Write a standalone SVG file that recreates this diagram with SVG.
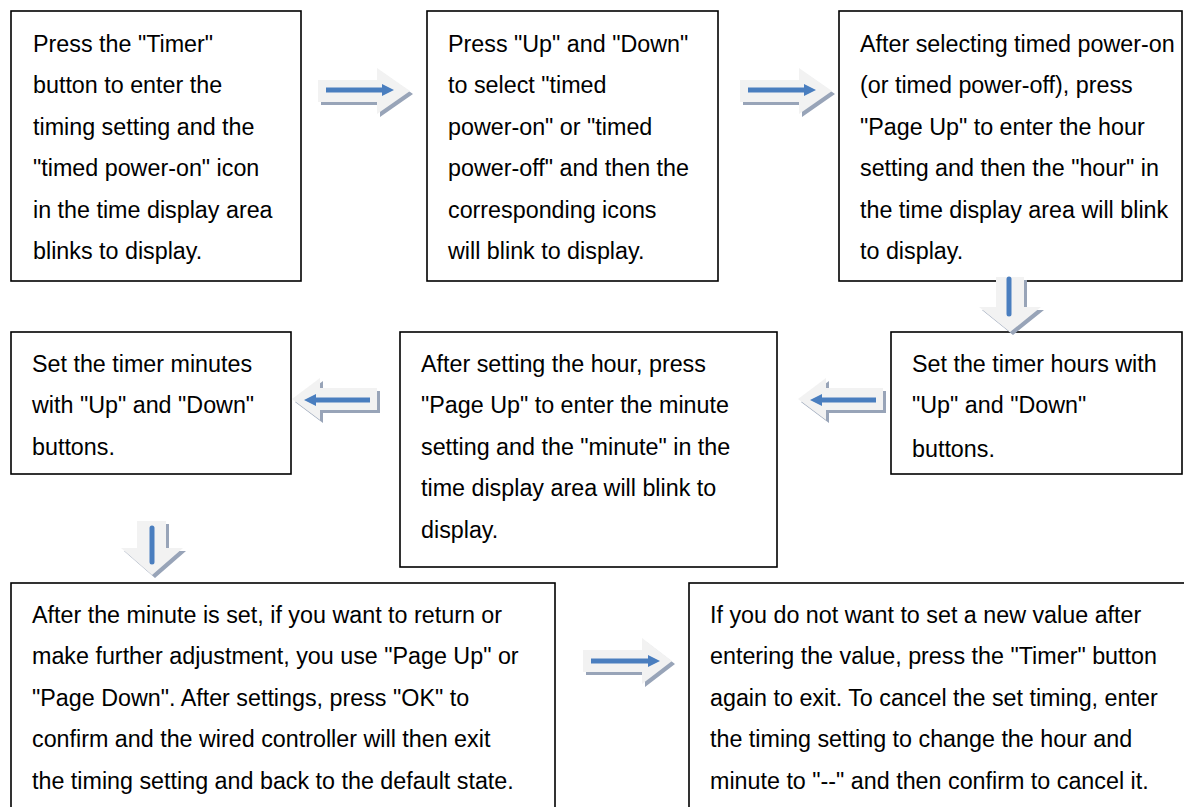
<svg xmlns="http://www.w3.org/2000/svg" width="1184" height="807" viewBox="0 0 1184 807">
<style>
.box{fill:#fff;stroke:#000;stroke-width:1.6}
.t{font-family:"Liberation Sans",Arial,sans-serif;font-size:23.3px;fill:#000}
.body{fill:#f2f2f2}
.shd{fill:#98a4b8}
.bl{stroke:#4a7ebf;stroke-width:5;fill:none}
.bh{fill:#4a7ebf}
</style>
<rect width="1184" height="807" fill="#fff"/>
<g id="n1"><rect class="box" x="11" y="11" width="290" height="270"/>
<text class="t" x="33"><tspan x="33" y="52">Press the "Timer"</tspan><tspan x="33" y="93">button to enter the</tspan><tspan x="33" y="135">timing setting and the</tspan><tspan x="33" y="176">"timed power-on" icon</tspan><tspan x="33" y="218">in the time display area</tspan><tspan x="33" y="259">blinks to display.</tspan></text></g>
<g id="n2"><rect class="box" x="427" y="11" width="291" height="270"/>
<text class="t"><tspan x="448" y="52">Press "Up" and "Down"</tspan><tspan x="448" y="93">to select "timed</tspan><tspan x="448" y="135">power-on" or "timed</tspan><tspan x="448" y="176">power-off" and then the</tspan><tspan x="448" y="218">corresponding icons</tspan><tspan x="448" y="259">will blink to display.</tspan></text></g>
<g id="n3"><rect class="box" x="839" y="11" width="343" height="270"/>
<text class="t"><tspan x="860" y="52">After selecting timed power-on</tspan><tspan x="860" y="93">(or timed power-off), press</tspan><tspan x="860" y="135">"Page Up" to enter the hour</tspan><tspan x="860" y="176">setting and then the "hour" in</tspan><tspan x="860" y="218">the time display area will blink</tspan><tspan x="860" y="259">to display.</tspan></text></g>
<g id="n4"><rect class="box" x="11" y="332" width="280" height="142"/>
<text class="t"><tspan x="32" y="372">Set the timer minutes</tspan><tspan x="32" y="413">with "Up" and "Down"</tspan><tspan x="32" y="455">buttons.</tspan></text></g>
<g id="n5"><rect class="box" x="400" y="332" width="377" height="235"/>
<text class="t"><tspan x="421" y="372">After setting the hour, press</tspan><tspan x="421" y="413">"Page Up" to enter the minute</tspan><tspan x="421" y="455">setting and the "minute" in the</tspan><tspan x="421" y="496">time display area will blink to</tspan><tspan x="421" y="538">display.</tspan></text></g>
<g id="n6"><rect class="box" x="891" y="332" width="291" height="142"/>
<text class="t"><tspan x="912" y="372">Set the timer hours with</tspan><tspan x="912" y="413">"Up" and "Down"</tspan><tspan x="912" y="457">buttons.</tspan></text></g>
<g id="n7"><rect class="box" x="11" y="583" width="544" height="240"/>
<text class="t"><tspan x="32" y="623">After the minute is set, if you want to return or</tspan><tspan x="32" y="664">make further adjustment, you use "Page Up" or</tspan><tspan x="32" y="706">"Page Down". After settings, press "OK" to</tspan><tspan x="32" y="747">confirm and the wired controller will then exit</tspan><tspan x="32" y="789">the timing setting and back to the default state.</tspan></text></g>
<g id="n8"><rect class="box" x="689" y="583" width="510" height="240"/>
<text class="t"><tspan x="710" y="623">If you do not want to set a new value after</tspan><tspan x="710" y="664">entering the value, press the "Timer" button</tspan><tspan x="710" y="706">again to exit. To cancel the set timing, enter</tspan><tspan x="710" y="747">the timing setting to change the hour and</tspan><tspan x="710" y="789">minute to "--" and then confirm to cancel it.</tspan></text></g>
<g id="connectors">
<g id="a12">
<polygon class="shd" transform="translate(3,3)" points="318,80 377,80 377,68 410,91 377,114 377,102 318,102"/>
<polygon class="body" points="318,80 377,80 377,68 410,91 377,114 377,102 318,102"/>
<path class="bl" d="M326 90H384"/><polygon class="bh" points="382,84 394,90 382,96"/>
</g>
<g id="a23" transform="translate(422,0)">
<polygon class="shd" transform="translate(3,3)" points="318,80 377,80 377,68 410,91 377,114 377,102 318,102"/>
<polygon class="body" points="318,80 377,80 377,68 410,91 377,114 377,102 318,102"/>
<path class="bl" d="M326 90H384"/><polygon class="bh" points="382,84 394,90 382,96"/>
</g>
<g id="a36">
<polygon class="shd" transform="translate(3,3)" points="996,277 1024,277 1024,307 1041,307 1010,332 979,307 996,307"/>
<polygon class="body" points="996,277 1024,277 1024,307 1041,307 1010,332 979,307 996,307"/>
<path class="bl" d="M1009 279V314" stroke-linecap="round"/>
</g>
<g id="a65" transform="translate(506,0)">
<polygon class="shd" transform="translate(3,3)" points="292,399 320,378 320,388 377,388 377,410 320,410 320,420"/>
<polygon class="body" points="292,399 320,378 320,388 377,388 377,410 320,410 320,420"/>
<path class="bl" d="M370 400H312"/><polygon class="bh" points="316,394 304,400 316,406"/>
</g>
<g id="a54">
<polygon class="shd" transform="translate(3,3)" points="292,399 320,378 320,388 377,388 377,410 320,410 320,420"/>
<polygon class="body" points="292,399 320,378 320,388 377,388 377,410 320,410 320,420"/>
<path class="bl" d="M370 400H312"/><polygon class="bh" points="316,394 304,400 316,406"/>
</g>
<g id="a47">
<polygon class="shd" transform="translate(3,3)" points="137,521 166,521 166,548 183,548 152,575 121,548 137,548"/>
<polygon class="body" points="137,521 166,521 166,548 183,548 152,575 121,548 137,548"/>
<path class="bl" d="M152 528V562" stroke-linecap="round"/>
</g>
<g id="a78">
<polygon class="shd" transform="translate(3,3)" points="583,650 642,650 642,638 672,661 642,684 642,672 583,672"/>
<polygon class="body" points="583,650 642,650 642,638 672,661 642,684 642,672 583,672"/>
<path class="bl" d="M591 661H650"/><polygon class="bh" points="648,655 660,661 648,667"/>
</g>
</g>
</svg>
